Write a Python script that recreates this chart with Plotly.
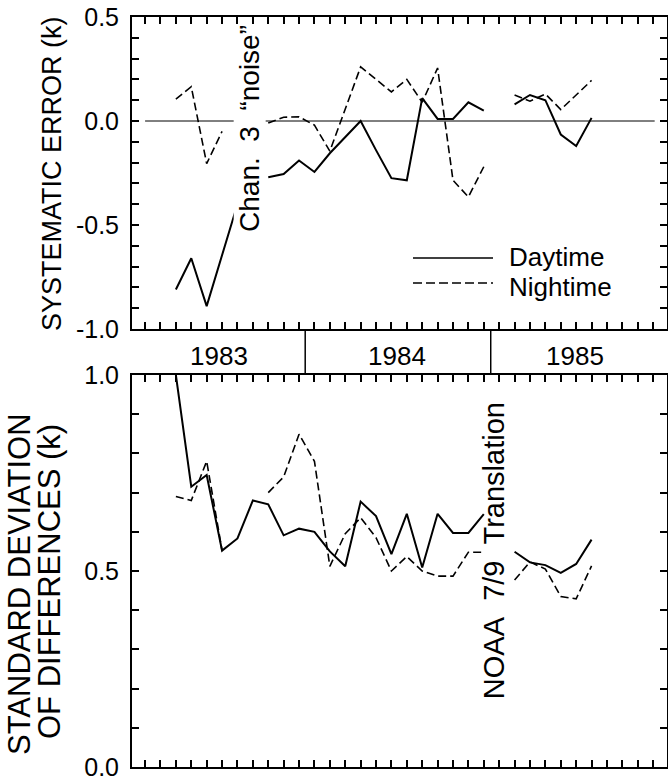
import plotly.graph_objects as go

W, H = 668, 780
FONT = "Liberation Sans, Arial, Helvetica, sans-serif"

# ---- data (month index 0..29; None = no data) ----
months = list(range(30))
tick_months = list(range(34))

top_day = [None, None, -0.81, -0.66, -0.89, -0.64, -0.40, None, -0.27, -0.255,
           -0.19, -0.245, -0.155, -0.08, 0.00, -0.14, -0.275, -0.285, 0.11, 0.01,
           0.01, 0.09, 0.05, None, 0.08, 0.125, 0.10, -0.065, -0.12, 0.015]
top_night = [None, None, 0.105, 0.165, -0.205, -0.05, None, None, -0.01, 0.018,
             0.02, -0.02, -0.145, 0.06, 0.26, 0.20, 0.14, 0.20, 0.09, 0.255,
             -0.285, -0.365, -0.22, None, 0.125, 0.095, 0.13, 0.055, 0.125, 0.195]
bot_day = [None, None, 1.0, 0.715, 0.745, 0.552, 0.583, 0.68, 0.67, 0.591,
           0.608, 0.60, 0.55, 0.512, 0.677, 0.64, 0.543, 0.646, 0.509, 0.646,
           0.597, 0.597, 0.645, None, 0.549, 0.522, 0.515, 0.495, 0.518, 0.58]
bot_night = [None, None, 0.69, 0.68, 0.78, 0.552, None, None, 0.70, 0.74,
             0.849, 0.78, 0.512, 0.595, 0.636, 0.585, 0.50, 0.537, 0.50, 0.487,
             0.487, 0.548, 0.548, None, 0.477, 0.523, 0.505, 0.435, 0.429, 0.513]

top_tickvals = [-1.0, -0.9, -0.8, -0.7, -0.6, -0.5, -0.4, -0.3, -0.2, -0.1,
                0.0, 0.1, 0.2, 0.3, 0.4, 0.5]
top_ticktext = ["-1.0", "", "", "", "", "-0.5", "", "", "", "",
                "0.0", "", "", "", "", "0.5"]
bot_tickvals = [0.0, 0.1, 0.2, 0.3, 0.4, 0.5, 0.6, 0.7, 0.8, 0.9, 1.0]
bot_ticktext = ["0.0", "", "", "", "", "0.5", "", "", "", "", "1.0"]

years = ["1983", "1984", "1985"]
year_centers = [4.83, 16.36, 27.9]
year_dividers = [10.4, 22.45]
legend_labels = ["Daytime", "Nightime"]

DASH = "8px,4px"

fig = go.Figure()
fig.add_trace(go.Scatter(x=months, y=top_day, mode="lines", name="Daytime",
                         line=dict(color="black", width=2), xaxis="x", yaxis="y",
                         showlegend=False))
fig.add_trace(go.Scatter(x=months, y=top_night, mode="lines", name="Nightime",
                         line=dict(color="black", width=1.6, dash=DASH), xaxis="x", yaxis="y",
                         showlegend=False))
fig.add_trace(go.Scatter(x=months, y=bot_day, mode="lines", name="Daytime",
                         line=dict(color="black", width=2), xaxis="x2", yaxis="y2",
                         showlegend=False))
fig.add_trace(go.Scatter(x=months, y=bot_night, mode="lines", name="Nightime",
                         line=dict(color="black", width=1.6, dash=DASH), xaxis="x2", yaxis="y2",
                         showlegend=False))

xdom = [132 / W, 667 / W]
xrange_ = [-0.85, 33.9]
top_dom = [1 - 329 / H, 1 - 17 / H]
bot_dom = [1 - 767 / H, 1 - 375 / H]

xcommon = dict(domain=xdom, range=xrange_, tickvals=tick_months, ticks="inside",
               ticklen=7, tickwidth=1.5, tickcolor="black", showline=True,
               linewidth=2, linecolor="black", mirror="ticks", showticklabels=False,
               showgrid=False, zeroline=False, automargin=False)
ycommon = dict(ticks="inside", ticklen=7, tickwidth=1.5, tickcolor="black",
               showline=True, linewidth=2, linecolor="black", mirror="ticks",
               showgrid=False, zeroline=False, ticklabelstandoff=6, automargin=False,
               ticklabeloverflow="allow",
               tickfont=dict(size=25, color="black", family=FONT))

fig.update_layout(
    width=W, height=H,
    margin=dict(l=0, r=0, t=0, b=0, pad=0, autoexpand=False),
    paper_bgcolor="white", plot_bgcolor="white",
    font=dict(family=FONT, color="black"),
    xaxis=dict(anchor="y", **xcommon),
    yaxis=dict(anchor="x", domain=top_dom, range=[-1.0, 0.5],
               tickvals=top_tickvals, ticktext=top_ticktext, **ycommon),
    xaxis2=dict(anchor="y2", **xcommon),
    yaxis2=dict(anchor="x2", domain=bot_dom, range=[0.0, 1.0],
                tickvals=bot_tickvals, ticktext=bot_ticktext, **ycommon),
)

shapes = []
# zero reference line in the top panel
shapes.append(dict(type="line", xref="x", yref="y", x0=0, x1=33.1, y0=0, y1=0,
                   line=dict(color="black", width=1)))
# year band dividers
for d in year_dividers:
    shapes.append(dict(type="line", xref="x", yref="paper", x0=d, x1=d,
                       y0=bot_dom[1], y1=top_dom[0], line=dict(color="black", width=1.5)))
# legend samples
shapes.append(dict(type="line", xref="paper", yref="paper", x0=413 / W, x1=493 / W,
                   y0=1 - 258 / H, y1=1 - 258 / H, line=dict(color="black", width=1.5)))
shapes.append(dict(type="line", xref="paper", yref="paper", x0=413 / W, x1=493 / W,
                   y0=1 - 283 / H, y1=1 - 283 / H,
                   line=dict(color="black", width=1.5, dash="9px,4px")))
fig.update_layout(shapes=shapes)


def txt(text, x, y, xref, yref, size, angle=0, xanchor="center", **kw):
    return dict(text=text, x=x, y=y, xref=xref, yref=yref, showarrow=False,
                textangle=angle, xanchor=xanchor, yanchor="middle",
                font=dict(size=size, family=FONT, color="black"), **kw)


NB = "\u00a0"
ann = []
for yr, c in zip(years, year_centers):
    ann.append(txt(yr, c, 1 - 356 / H, "x", "paper", 26))
for i, lab in enumerate(legend_labels):
    ann.append(txt(lab, 508 / W, 1 - (257 + 30 * i) / H, "paper", "paper", 26,
                   xanchor="left", borderpad=0))
ann.append(txt("Chan." + NB * 2 + "3" + NB * 2 + "\u201cnoise\u201d", 6.82, -0.038, "x", "y", 28,
               angle=-90, bgcolor="white", borderpad=0))
ann.append(txt("NOAA" + NB * 2 + "7/9" + NB * 2 + "Translation", 22.66, 0.553, "x2", "y2", 29,
               angle=-90))
ann.append(txt("SYSTEMATIC ERROR (k)", 52 / W, 1 - 174 / H, "paper", "paper", 27, angle=-90))
ann.append(txt("STANDARD DEVIATION", 19 / W, 1 - 584 / H, "paper", "paper", 31, angle=-90))
ann.append(txt("OF DIFFERENCES (k)", 49 / W, 1 - 582 / H, "paper", "paper", 31, angle=-90))
fig.update_layout(annotations=ann)

fig.write_html("out.html", config={"displayModeBar": False},
               post_script="document.body.style.margin='0';")
